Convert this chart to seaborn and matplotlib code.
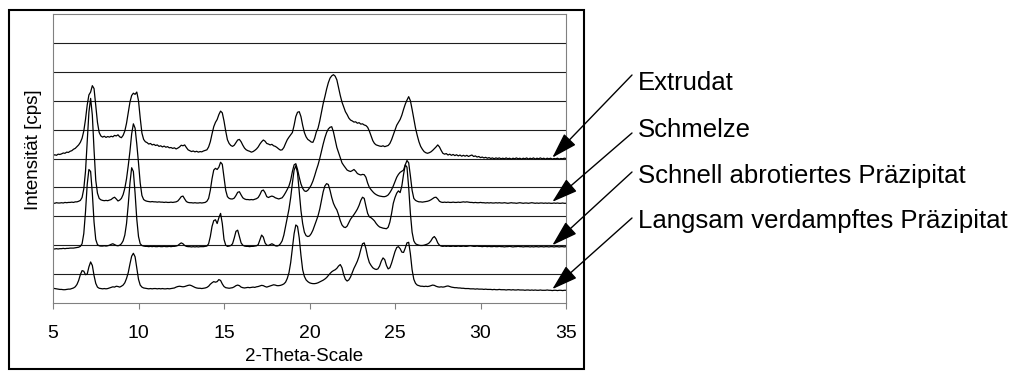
import numpy as np
import pandas as pd
import matplotlib
matplotlib.use("Agg")
import matplotlib.pyplot as plt
import seaborn as sns
from matplotlib.patches import Rectangle

# Diffractograms sampled every 0.1 degree 2-theta from 5.0 to 35.0
# (one row of ten values per degree, offset intensities in grid units)
theta_start = 5.0
theta_step = 0.1

extrudat = [
    5.10, 5.13, 5.11, 5.15, 5.14, 5.16, 5.19, 5.18, 5.22, 5.21,
    5.25, 5.27, 5.32, 5.35, 5.41, 5.47, 5.56, 5.70, 5.95, 6.35,
    6.85, 7.20, 7.30, 7.52, 7.42, 6.85, 6.25, 5.90, 5.78, 5.74,
    5.77, 5.73, 5.76, 5.74, 5.77, 5.75, 5.80, 5.78, 5.82, 5.75,
    5.72, 5.80, 5.95, 6.22, 6.58, 6.95, 7.18, 7.26, 7.22, 7.30,
    7.00, 6.40, 5.88, 5.66, 5.58, 5.55, 5.50, 5.52, 5.47, 5.49,
    5.45, 5.47, 5.42, 5.44, 5.40, 5.43, 5.39, 5.41, 5.37, 5.38,
    5.35, 5.37, 5.33, 5.36, 5.40, 5.46, 5.44, 5.47, 5.38, 5.30,
    5.27, 5.24, 5.26, 5.23, 5.25, 5.22, 5.24, 5.23, 5.26, 5.28,
    5.30, 5.40, 5.58, 5.85, 6.10, 6.25, 6.35, 6.52, 6.64, 6.58,
    6.30, 5.95, 5.65, 5.52, 5.45, 5.42, 5.46, 5.55, 5.64, 5.66,
    5.58, 5.46, 5.36, 5.30, 5.27, 5.25, 5.22, 5.24, 5.28, 5.33,
    5.40, 5.50, 5.58, 5.64, 5.60, 5.52, 5.50, 5.47, 5.49, 5.44,
    5.42, 5.38, 5.33, 5.29, 5.30, 5.38, 5.52, 5.65, 5.74, 5.82,
    5.90, 6.15, 6.45, 6.60, 6.62, 6.45, 6.15, 5.90, 5.75, 5.66,
    5.62, 5.57, 5.56, 5.70, 5.92, 6.05, 6.30, 6.60, 6.90, 7.14,
    7.40, 7.62, 7.78, 7.86, 7.90, 7.85, 7.72, 7.45, 7.18, 6.95,
    6.78, 6.62, 6.52, 6.40, 6.33, 6.30, 6.26, 6.27, 6.22, 6.24,
    6.19, 6.20, 6.16, 6.14, 6.08, 5.95, 5.78, 5.62, 5.52, 5.47,
    5.45, 5.43, 5.42, 5.44, 5.41, 5.43, 5.45, 5.52, 5.65, 5.82,
    5.99, 6.15, 6.25, 6.35, 6.50, 6.70, 6.88, 7.02, 7.14, 7.00,
    6.70, 6.38, 6.05, 5.80, 5.58, 5.42, 5.32, 5.24, 5.20, 5.18,
    5.20, 5.23, 5.28, 5.34, 5.40, 5.47, 5.40, 5.28, 5.18, 5.15,
    5.17, 5.12, 5.15, 5.11, 5.14, 5.10, 5.13, 5.09, 5.12, 5.08,
    5.11, 5.08, 5.11, 5.07, 5.10, 5.12, 5.07, 5.09, 5.05, 5.07,
    5.03, 5.05, 5.02, 5.04, 5.01, 5.03, 5.00, 5.02, 4.99, 5.02,
    5.00, 5.02, 4.99, 5.01, 4.99, 5.02, 4.99, 5.01, 4.98, 5.01,
    4.99, 5.02, 4.99, 5.01, 4.98, 5.01, 4.99, 5.02, 4.98, 5.01,
    4.99, 5.02, 4.98, 5.01, 4.99, 5.02, 4.99, 5.01, 4.98, 5.01,
    4.99, 5.01, 4.98, 5.00, 4.99, 5.01, 4.98, 5.00, 4.99, 5.01,
    5.00,
]

schmelze = [
    3.46, 3.45, 3.47, 3.46, 3.46, 3.47, 3.46, 3.48, 3.47, 3.48,
    3.48, 3.49, 3.48, 3.50, 3.50, 3.52, 3.55, 3.65, 3.95, 4.55,
    5.55, 6.60, 7.08, 6.50, 5.30, 4.25, 3.80, 3.62, 3.57, 3.55,
    3.54, 3.55, 3.54, 3.56, 3.58, 3.63, 3.66, 3.60, 3.53, 3.56,
    3.62, 3.75, 3.97, 4.30, 4.75, 5.25, 5.85, 6.20, 6.05, 5.50,
    4.85, 4.15, 3.72, 3.58, 3.54, 3.52, 3.51, 3.50, 3.51, 3.50,
    3.50, 3.49, 3.50, 3.49, 3.49, 3.48, 3.49, 3.48, 3.48, 3.49,
    3.48, 3.49, 3.50, 3.53, 3.60, 3.68, 3.70, 3.60, 3.51, 3.48,
    3.47, 3.47, 3.46, 3.47, 3.46, 3.46, 3.47, 3.46, 3.47, 3.48,
    3.52, 3.62, 3.90, 4.30, 4.60, 4.66, 4.62, 4.70, 4.87, 4.80,
    4.35, 3.90, 3.68, 3.62, 3.60, 3.60, 3.63, 3.72, 3.83, 3.85,
    3.74, 3.64, 3.60, 3.58, 3.58, 3.57, 3.58, 3.57, 3.59, 3.61,
    3.65, 3.75, 3.88, 3.91, 3.82, 3.68, 3.65, 3.68, 3.70, 3.68,
    3.64, 3.62, 3.60, 3.62, 3.64, 3.72, 3.82, 3.93, 4.05, 4.25,
    4.55, 4.78, 4.82, 4.62, 4.35, 4.12, 3.97, 3.88, 3.86, 3.90,
    3.98, 4.08, 4.22, 4.40, 4.60, 4.78, 5.00, 5.25, 5.50, 5.72,
    5.90, 6.02, 6.08, 6.10, 5.92, 5.65, 5.38, 5.20, 5.02, 4.85,
    4.76, 4.68, 4.60, 4.57, 4.55, 4.58, 4.62, 4.56, 4.48, 4.45,
    4.43, 4.45, 4.44, 4.35, 4.15, 4.00, 3.92, 3.85, 3.79, 3.75,
    3.72, 3.70, 3.69, 3.68, 3.68, 3.70, 3.74, 3.82, 3.92, 4.05,
    4.20, 4.35, 4.45, 4.52, 4.56, 4.60, 4.78, 4.93, 4.85, 4.40,
    3.90, 3.62, 3.55, 3.52, 3.50, 3.50, 3.49, 3.50, 3.51, 3.52,
    3.54, 3.57, 3.61, 3.65, 3.66, 3.60, 3.52, 3.49, 3.48, 3.49,
    3.48, 3.49, 3.48, 3.48, 3.49, 3.48, 3.48, 3.49, 3.48, 3.49,
    3.50, 3.49, 3.50, 3.49, 3.48, 3.48, 3.47, 3.48, 3.47, 3.47,
    3.48, 3.47, 3.47, 3.46, 3.47, 3.46, 3.47, 3.46, 3.46, 3.47,
    3.46, 3.47, 3.46, 3.46, 3.47, 3.46, 3.45, 3.46, 3.47, 3.46,
    3.46, 3.45, 3.46, 3.47, 3.46, 3.45, 3.46, 3.46, 3.45, 3.46,
    3.47, 3.46, 3.45, 3.46, 3.45, 3.46, 3.46, 3.45, 3.46, 3.45,
    3.46, 3.45, 3.45, 3.46, 3.45, 3.46, 3.45, 3.45, 3.46, 3.45,
    3.45,
]

schnell_abrotiert = [
    1.87, 1.87, 1.88, 1.87, 1.88, 1.88, 1.89, 1.88, 1.89, 1.89,
    1.90, 1.90, 1.90, 1.91, 1.92, 1.93, 1.96, 2.05, 2.40, 3.15,
    4.10, 4.62, 4.55, 3.80, 2.80, 2.20, 2.02, 1.98, 1.97, 1.97,
    1.98, 1.97, 1.98, 2.00, 2.03, 2.05, 2.02, 1.99, 1.98, 2.00,
    2.05, 2.15, 2.35, 2.75, 3.40, 4.15, 4.68, 4.55, 3.80, 2.90,
    2.30, 2.05, 1.99, 1.97, 1.96, 1.96, 1.95, 1.96, 1.95, 1.96,
    1.95, 1.95, 1.96, 1.95, 1.95, 1.96, 1.95, 1.95, 1.96, 1.95,
    1.96, 1.96, 1.97, 1.99, 2.04, 2.08, 2.05, 1.99, 1.96, 1.95,
    1.95, 1.94, 1.95, 1.94, 1.95, 1.94, 1.95, 1.95, 1.95, 1.96,
    1.97, 2.05, 2.30, 2.65, 2.85, 2.88, 2.75, 2.95, 3.10, 2.75,
    2.20, 2.00, 1.96, 1.97, 1.99, 2.05, 2.25, 2.48, 2.52, 2.30,
    2.08, 2.00, 1.97, 1.96, 1.96, 1.95, 1.96, 1.96, 1.97, 1.98,
    2.02, 2.18, 2.35, 2.28, 2.08, 2.00, 1.99, 2.02, 2.05, 2.02,
    1.98, 1.97, 1.99, 2.05, 2.15, 2.35, 2.65, 2.95, 3.25, 3.65,
    4.15, 4.60, 4.75, 4.50, 3.85, 3.20, 2.75, 2.45, 2.33, 2.30,
    2.32, 2.40, 2.52, 2.68, 2.85, 3.02, 3.25, 3.55, 3.85, 4.05,
    4.13, 4.10, 3.90, 3.65, 3.45, 3.32, 3.22, 3.05, 2.85, 2.70,
    2.63, 2.61, 2.66, 2.78, 2.90, 2.98, 3.06, 3.15, 3.25, 3.38,
    3.55, 3.66, 3.62, 3.35, 3.10, 2.98, 2.95, 2.90, 2.84, 2.75,
    2.68, 2.63, 2.61, 2.59, 2.58, 2.57, 2.62, 2.80, 3.10, 3.45,
    3.65, 3.80, 3.88, 3.82, 4.05, 4.45, 4.78, 4.70, 4.00, 3.10,
    2.45, 2.15, 2.05, 2.02, 2.00, 1.99, 1.99, 2.00, 2.02, 2.04,
    2.08, 2.15, 2.25, 2.30, 2.22, 2.08, 2.00, 1.97, 1.96, 1.97,
    1.96, 1.97, 1.96, 1.96, 1.97, 1.96, 1.96, 1.97, 1.96, 1.96,
    1.97, 1.96, 1.96, 1.97, 1.98, 1.97, 1.96, 1.96, 1.97, 1.96,
    1.96, 1.95, 1.96, 1.96, 1.95, 1.96, 1.95, 1.95, 1.96, 1.95,
    1.95, 1.96, 1.95, 1.95, 1.94, 1.95, 1.95, 1.96, 1.95, 1.94,
    1.95, 1.95, 1.96, 1.95, 1.95, 1.94, 1.95, 1.95, 1.95, 1.94,
    1.95, 1.94, 1.95, 1.95, 1.94, 1.95, 1.95, 1.94, 1.95, 1.95,
    1.94, 1.95, 1.95, 1.94, 1.95, 1.95, 1.94, 1.95, 1.95, 1.94,
    1.95,
]

langsam_verdampft = [
    0.51, 0.50, 0.49, 0.48, 0.47, 0.47, 0.46, 0.46, 0.47, 0.48,
    0.48, 0.50, 0.52, 0.56, 0.64, 0.78, 0.98, 1.12, 1.10, 0.98,
    1.00, 1.25, 1.42, 1.30, 0.95, 0.68, 0.55, 0.51, 0.50, 0.49,
    0.50, 0.49, 0.50, 0.52, 0.54, 0.56, 0.55, 0.58, 0.57, 0.55,
    0.58, 0.62, 0.70, 0.85, 1.05, 1.35, 1.62, 1.72, 1.60, 1.20,
    0.82, 0.62, 0.55, 0.52, 0.51, 0.50, 0.49, 0.50, 0.49, 0.50,
    0.50, 0.49, 0.50, 0.49, 0.50, 0.49, 0.49, 0.50, 0.49, 0.50,
    0.51, 0.52, 0.55, 0.57, 0.58, 0.57, 0.56, 0.57, 0.59, 0.61,
    0.62, 0.60, 0.57, 0.54, 0.52, 0.51, 0.51, 0.50, 0.51, 0.52,
    0.54, 0.58, 0.65, 0.70, 0.74, 0.72, 0.74, 0.81, 0.78, 0.66,
    0.57, 0.53, 0.52, 0.51, 0.52, 0.53, 0.56, 0.60, 0.62, 0.60,
    0.55, 0.53, 0.52, 0.53, 0.54, 0.53, 0.54, 0.55, 0.54, 0.56,
    0.57, 0.59, 0.61, 0.60, 0.57, 0.55, 0.57, 0.59, 0.61, 0.63,
    0.62, 0.60, 0.60, 0.61, 0.63, 0.66, 0.72, 0.85, 1.05, 1.40,
    1.90, 2.40, 2.70, 2.65, 2.25, 1.65, 1.15, 0.92, 0.80, 0.74,
    0.70, 0.68, 0.67, 0.67, 0.68, 0.70, 0.73, 0.76, 0.79, 0.83,
    0.88, 0.95, 1.02, 1.08, 1.12, 1.15, 1.20, 1.28, 1.33, 1.22,
    0.98, 0.82, 0.76, 0.80, 0.90, 1.05, 1.20, 1.32, 1.45, 1.62,
    1.85, 2.05, 2.08, 1.88, 1.60, 1.40, 1.30, 1.22, 1.18, 1.16,
    1.18, 1.28, 1.45, 1.56, 1.50, 1.30, 1.18, 1.22, 1.38, 1.58,
    1.78, 1.92, 1.95, 1.88, 1.76, 1.75, 1.90, 2.08, 2.10, 1.70,
    1.15, 0.82, 0.68, 0.62, 0.60, 0.58, 0.58, 0.57, 0.58, 0.57,
    0.58, 0.60, 0.62, 0.61, 0.58, 0.56, 0.55, 0.56, 0.55, 0.56,
    0.58, 0.59, 0.57, 0.55, 0.54, 0.53, 0.53, 0.52, 0.52, 0.51,
    0.51, 0.50, 0.50, 0.50, 0.49, 0.49, 0.49, 0.48, 0.49, 0.48,
    0.48, 0.48, 0.47, 0.48, 0.47, 0.47, 0.47, 0.46, 0.47, 0.46,
    0.46, 0.47, 0.46, 0.46, 0.46, 0.45, 0.46, 0.46, 0.45, 0.46,
    0.45, 0.45, 0.46, 0.45, 0.45, 0.45, 0.44, 0.45, 0.45, 0.44,
    0.45, 0.44, 0.45, 0.44, 0.44, 0.45, 0.44, 0.44, 0.44, 0.45,
    0.44, 0.44, 0.43, 0.44, 0.44, 0.43, 0.44, 0.44, 0.43, 0.44,
    0.44,
]

sample_names = [
    "Extrudat",
    "Schmelze",
    "Schnell abrotiertes Präzipitat",
    "Langsam verdampftes Präzipitat",
]
x_tick_values = [5, 10, 15, 20, 25, 30, 35]
x_title = "2-Theta-Scale"
y_title = "Intensität [cps]"

patterns = [extrudat, schmelze, schnell_abrotiert, langsam_verdampft]
for p in patterns:
    assert len(p) == 301, len(p)

two_theta = np.round(theta_start + theta_step * np.arange(len(extrudat)), 2)
df = pd.concat(
    [pd.DataFrame({"two_theta": two_theta, "intensity": vals, "sample": name})
     for name, vals in zip(sample_names, patterns)],
    ignore_index=True,
)

sns.set_theme(style="white")
plt.rcParams["font.family"] = ["Liberation Sans", "DejaVu Sans"]

W, H = 1024, 372
fig = plt.figure(figsize=(W / 100, H / 100), dpi=100)
fig.patch.set_facecolor("white")

# plot area in pixel bounds: left 53, right 566, top 14, bottom 303
ax = fig.add_axes([53 / W, 1 - 303 / H, 513 / W, 289 / H])

sns.lineplot(
    data=df, x="two_theta", y="intensity", hue="sample",
    palette=["black"] * len(sample_names), estimator=None, sort=False,
    legend=False, linewidth=0.9, ax=ax,
)

ax.set_xlim(5, 35)
ax.set_ylim(0, 10)
ax.set_yticks(range(1, 10))
ax.yaxis.grid(True, color="#1e1e1e", linewidth=0.8)
ax.xaxis.grid(False)
ax.set_axisbelow(True)
ax.tick_params(axis="y", left=False, labelleft=False)
ax.set_xticks(x_tick_values)
ax.tick_params(axis="x", bottom=True, direction="out", length=4.5, width=0.8,
               color="#808080", labelsize=14, labelcolor="black", pad=11.5)
for side in ["left", "right", "top", "bottom"]:
    ax.spines[side].set_visible(True)
    ax.spines[side].set_color("#808080")
    ax.spines[side].set_linewidth(0.8)

ax.set_xlabel(x_title, fontsize=13.5, color="black")
ax.xaxis.set_label_coords(0.489, -0.155)
ax.set_ylabel(y_title, fontsize=13.5, color="black")
ax.yaxis.set_label_coords(-0.021, 0.529)

# outer chart frame
fig.add_artist(Rectangle((9 / W, 1 - 369 / H), 575 / W, 359 / H,
                         transform=fig.transFigure, fill=False,
                         edgecolor="black", linewidth=1.5))

# labels with arrows pointing at the right end of each pattern
label_y_px = [83, 130, 176, 221]
line_start_px = [(632, 75), (632, 133), (632, 172), (632, 218)]
tip_theta = 34.2
for name, vals, ly, (sx, sy) in zip(sample_names, patterns, label_y_px, line_start_px):
    tip_val = vals[int(round((tip_theta - theta_start) / theta_step))] + 0.05
    ax.annotate(
        "", xy=(tip_theta, tip_val), xycoords="data",
        xytext=(sx / W, 1 - sy / H), textcoords="figure fraction",
        arrowprops=dict(arrowstyle="-|>,head_length=16,head_width=5",
                        mutation_scale=1, color="black", lw=1.0,
                        shrinkA=0, shrinkB=0),
        annotation_clip=False,
    )
    fig.text(638 / W, 1 - ly / H, name, fontsize=18.5, color="black",
             ha="left", va="center")

fig.savefig("out.png", dpi=100, facecolor="white")
